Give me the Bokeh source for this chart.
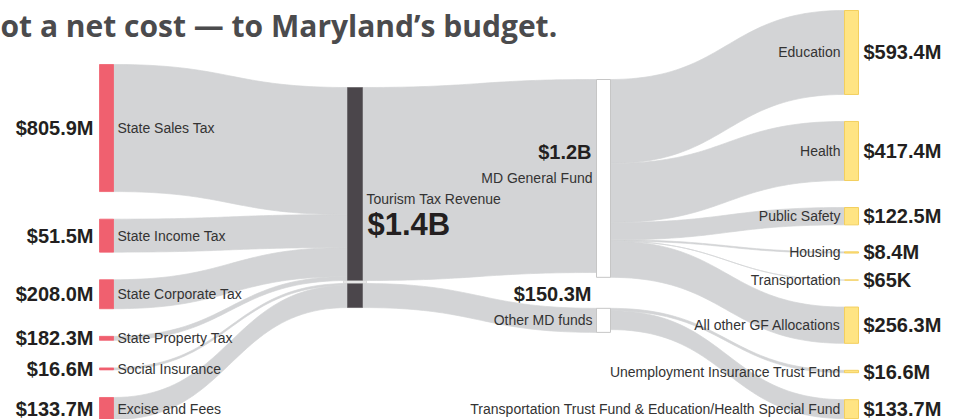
import numpy as np
from bokeh.plotting import figure
from bokeh.models import Range1d
from bokeh.core.properties import value
from bokeh.embed import file_html
from bokeh.resources import INLINE

# ---------------- data ----------------
title_text = "ot a net cost \u2014 to Maryland\u2019s budget."

source_names = ["State Sales Tax", "State Income Tax", "State Corporate Tax",
                "State Property Tax", "Social Insurance", "Excise and Fees"]
source_labels = ["$805.9M", "$51.5M", "$208.0M", "$182.3M", "$16.6M", "$133.7M"]
source_flow = [898, 233, 205, 28, 14, 156]      # band size as drawn ($M)
source_fund = [0, 0, 0, 0, 1, 1]                # 0 = General Fund, 1 = other funds

hub_name = "Tourism Tax Revenue"
hub_label = "$1.4B"

fund_names = ["MD General Fund", "Other MD funds"]
fund_labels = ["$1.2B", "$150.3M"]

use_names = ["Education", "Health", "Public Safety", "Housing", "Transportation",
             "All other GF Allocations", "Unemployment Insurance Trust Fund",
             "Transportation Trust Fund & Education/Health Special Fund"]
use_labels = ["$593.4M", "$417.4M", "$122.5M", "$8.4M", "$65K", "$256.3M",
              "$16.6M", "$133.7M"]
use_flow = [593.4, 417.4, 122.5, 8.4, 0.065, 256.3, 16.6, 133.7]
use_fund = [0, 0, 0, 0, 0, 0, 1, 1]

# ---------------- layout ----------------
K = 0.1415            # drawing units per $M
COL = {"src": (99, 113), "hub": (347, 362), "fund": (596, 610), "use": (844, 858)}


def stack(sizes, start, pad):
    out, y = [], start
    for s in sizes:
        out.append((y, y + s * K))
        y += s * K + pad
    return out


src_pos = stack(source_flow, 64, 27.6)
hub_in = [sum(f for f, g in zip(source_flow, source_fund) if g == j) for j in range(2)]
hub_pos = stack(hub_in, 87, 3)
fund_out = [sum(f for f, g in zip(use_flow, use_fund) if g == j) for j in range(2)]
fund_size = [max(a, b) for a, b in zip(hub_in, fund_out)]
fund_pos = stack(fund_size, 79, 31)
use_pos = stack(use_flow, 10, 27)

LINK = "#d3d4d6"


def band(xa, xb, ya0, ya1, yb0, yb1, n=48):
    t = np.linspace(0, 1, n)
    xm = (xa + xb) / 2
    bx = (1 - t) ** 3 * xa + 3 * (1 - t) ** 2 * t * xm + 3 * (1 - t) * t ** 2 * xm + t ** 3 * xb
    h = (1 - t) ** 3 + 3 * (1 - t) ** 2 * t
    top = h * ya0 + (1 - h) * yb0
    bot = h * ya1 + (1 - h) * yb1
    return list(bx) + list(bx[::-1]), list(top) + list(bot[::-1])


xs, ys = [], []
# sources -> hub
cursor = [p[0] for p in hub_pos]
for i, f in enumerate(source_flow):
    j = source_fund[i]
    y0 = cursor[j]
    cursor[j] += f * K
    bx, by = band(COL["src"][1], COL["hub"][0], src_pos[i][0], src_pos[i][1], y0, cursor[j])
    xs.append(bx); ys.append(by)
# hub -> funds
for j in range(2):
    bx, by = band(COL["hub"][1], COL["fund"][0], hub_pos[j][0], hub_pos[j][1],
                  fund_pos[j][0], fund_pos[j][0] + hub_in[j] * K)
    xs.append(bx); ys.append(by)
# funds -> uses
cursor = [p[0] for p in fund_pos]
for k, f in enumerate(use_flow):
    j = use_fund[k]
    y0 = cursor[j]
    cursor[j] += f * K
    bx, by = band(COL["fund"][1], COL["use"][0], y0, cursor[j], use_pos[k][0], use_pos[k][1])
    xs.append(bx); ys.append(by)

p = figure(width=959, height=419, x_range=Range1d(0, 959), y_range=Range1d(419, 0),
           output_backend="svg", toolbar_location=None, min_border=0,
           background_fill_color="white", border_fill_color="white")
p.axis.visible = False
p.grid.visible = False
p.outline_line_color = None

p.patches(xs, ys, fill_color=LINK, line_color=LINK, line_width=0.7)

# nodes
p.quad(left=COL["src"][0], right=COL["src"][1],
       top=[a for a, b in src_pos], bottom=[b for a, b in src_pos],
       fill_color="#f0606f", line_color="#f0606f", line_width=0.8)
p.quad(left=COL["hub"][0], right=COL["hub"][1],
       top=[a for a, b in hub_pos], bottom=[b for a, b in hub_pos],
       fill_color="#4b464b", line_color="#4b464b", line_width=0.5)
gap_mid = (hub_pos[0][1] + hub_pos[1][0]) / 2
p.quad(left=COL["hub"][0] - 4, right=COL["hub"][1] + 4, top=gap_mid - 1, bottom=gap_mid + 1,
       fill_color="#f2f2f2", line_color="#cfcfcf", line_width=0.6)
p.quad(left=COL["fund"][0], right=COL["fund"][1],
       top=[a for a, b in fund_pos], bottom=[b for a, b in fund_pos],
       fill_color="white", line_color="#c6c6c6", line_width=1)
p.quad(left=COL["use"][0], right=COL["use"][1],
       top=[a for a, b in use_pos], bottom=[b for a, b in use_pos],
       fill_color="#ffe483", line_color="#f3cf5e", line_width=1)

FONT = value("Liberation Sans")
NAME_C = "#333333"
VAL_C = "#231f20"

src_mid = [(a + b) / 2 for a, b in src_pos]
use_mid = [(a + b) / 2 for a, b in use_pos]
fund_mid = [(a + b) / 2 for a, b in fund_pos]
hub_mid = (hub_pos[0][0] + hub_pos[0][1]) / 2

# left labels
p.text(x=COL["src"][0] - 6, y=src_mid, text=source_labels, text_align="right",
       text_baseline="middle", text_font=FONT, text_font_style="bold",
       text_font_size="20px", text_color=VAL_C)
p.text(x=COL["src"][1] + 4, y=src_mid, text=source_names, text_align="left",
       text_baseline="middle", text_font=FONT, text_font_size="14px", text_color=NAME_C)

# right labels
p.text(x=COL["use"][0] - 4, y=use_mid, text=use_names, text_align="right",
       text_baseline="middle", text_font=FONT, text_font_size="14px", text_color=NAME_C)
p.text(x=COL["use"][1] + 5, y=use_mid, text=use_labels, text_align="left",
       text_baseline="middle", text_font=FONT, text_font_style="bold",
       text_font_size="20px", text_color=VAL_C)

# hub labels
p.text(x=[COL["hub"][1] + 4], y=[hub_mid + 15], text=[hub_name], text_align="left",
       text_baseline="middle", text_font=FONT, text_font_size="14px", text_color=NAME_C)
p.text(x=[COL["hub"][1] + 5], y=[hub_mid + 40], text=[hub_label], text_align="left",
       text_baseline="middle", text_font=FONT, text_font_style="bold",
       text_font_size="31px", text_color=VAL_C)

# fund labels
p.text(x=[COL["fund"][0] - 4] * 2, y=fund_mid, text=fund_names, text_align="right",
       text_baseline="middle", text_font=FONT, text_font_size="14px", text_color=NAME_C)
p.text(x=[COL["fund"][0] - 5] * 2, y=[m - 26 for m in fund_mid], text=fund_labels,
       text_align="right", text_baseline="middle", text_font=FONT, text_font_style="bold",
       text_font_size="20px", text_color=VAL_C)

# title (kept fully inside the page)
p.text(x=[0], y=[25], text=[title_text], text_align="left", text_baseline="alphabetic",
       text_font=value("Open Sans"), text_font_style="bold", text_font_size="30px",
       text_color="#4b4b4d")

open("out.html", "w").write(file_html(p, INLINE))
